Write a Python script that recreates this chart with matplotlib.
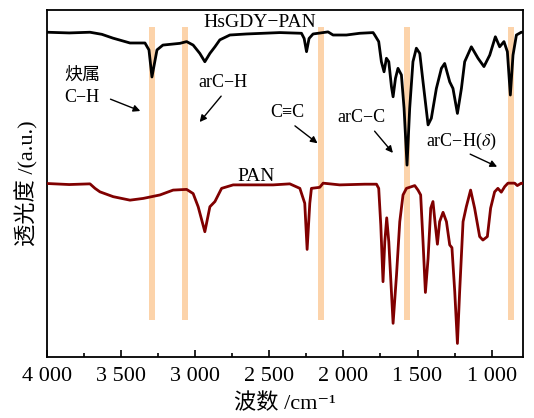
import numpy as np
import matplotlib
matplotlib.use('Agg')
import matplotlib.pyplot as plt
from matplotlib.ticker import MultipleLocator, FuncFormatter

plt.rcParams['font.family'] = ['Liberation Serif', 'Noto Sans CJK SC', 'DejaVu Sans']
plt.rcParams['mathtext.fontset'] = 'stix'

# HsGDY-PAN 曲线 (波数, 透光度 a.u.)
wn_hsgdy = [4000, 3850, 3710, 3630, 3555, 3440, 3339, 3312, 3292, 3258, 3218, 3103,
            3058, 3014, 2969, 2935, 2901, 2867, 2834, 2766, 2654, 2429, 2283, 2265,
            2249, 2232, 2205, 2137, 2104, 2070, 1980, 1890, 1800, 1789, 1762, 1744,
            1726, 1710, 1694, 1676, 1665, 1649, 1632, 1609, 1591, 1571, 1553, 1531,
            1508, 1485, 1463, 1429, 1407, 1373, 1339, 1317, 1283, 1261, 1231, 1204,
            1182, 1137, 1092, 1052, 1013, 975, 946, 917, 894, 874, 856, 833,
            800, 791]
t_hsgdy = [93.6, 93.4, 93.6, 93.0, 91.9, 90.5, 90.5, 88.5, 80.7, 88.5, 89.9, 90.4,
           90.9, 89.9, 87.5, 85.1, 87.5, 89.4, 91.4, 92.8, 93.1, 93.5, 93.3, 91.8,
           88.0, 91.8, 93.1, 93.5, 93.7, 92.8, 92.8, 93.3, 93.5, 92.8, 90.9, 85.1,
           82.2, 86.1, 85.1, 77.9, 75.0, 80.3, 83.2, 81.3, 71.7, 55.3, 71.7, 85.1,
           89.0, 87.5, 79.3, 66.9, 68.8, 77.4, 83.2, 84.6, 79.3, 77.4, 70.2, 77.4,
           85.1, 89.4, 86.1, 83.7, 87.0, 92.3, 89.4, 90.9, 88.0, 75.5, 87.0, 92.8,
           93.6, 93.6]

# PAN 曲线
wn_pan = [4000, 3850, 3710, 3676, 3643, 3553, 3440, 3351, 3238, 3149, 3058, 3014,
          2980, 2935, 2901, 2867, 2822, 2744, 2474, 2362, 2294, 2261, 2245, 2227,
          2216, 2160, 2137, 2025, 1856, 1777, 1762, 1748, 1733, 1721, 1708, 1694,
          1665, 1642, 1620, 1598, 1575, 1519, 1497, 1479, 1463, 1447, 1429, 1411,
          1396, 1380, 1366, 1351, 1328, 1305, 1283, 1268, 1249, 1231, 1216, 1193,
          1171, 1142, 1115, 1081, 1059, 1029, 1007, 980, 958, 935, 912, 890,
          845, 827, 800, 791]
t_pan = [50.0, 49.7, 49.9, 48.6, 47.6, 46.2, 45.2, 45.7, 46.7, 48.1, 48.3, 47.1,
         43.3, 36.1, 43.3, 44.8, 48.6, 49.6, 49.6, 49.9, 48.6, 44.3, 31.0, 44.3,
         48.6, 48.9, 50.1, 49.6, 49.8, 49.8, 48.6, 38.0, 21.7, 33.2, 40.1, 33.2,
         9.7, 23.6, 39.0, 46.7, 48.6, 49.4, 48.1, 46.7, 33.2, 18.6, 28.4, 42.9,
         44.8, 38.0, 32.5, 39.0, 41.7, 39.0, 32.3, 31.5, 18.8, 3.9, 18.8, 39.0,
         43.3, 48.1, 42.9, 34.7, 33.7, 34.7, 42.9, 47.6, 48.6, 47.5, 49.1, 50.1,
         50.1, 49.4, 50.1, 50.0]

# 特征峰位置
bands = [3290, 3070, 2150, 1572, 870]

fig = plt.figure(figsize=(5.34, 4.18), dpi=100)
ax = fig.add_axes([0.088, 0.146, 0.891, 0.830])

for b in bands:
    ax.fill_between([b - 20, b + 20], 10.7, 95.1, color='#FCD3AA', lw=0, zorder=1)

ax.plot(wn_hsgdy, t_hsgdy, color='black', lw=2.0, solid_joinstyle='round', zorder=3)
ax.plot(wn_pan, t_pan, color='#800000', lw=2.0, solid_joinstyle='round', zorder=3)

ax.set_xlim(4000, 790)
ax.set_ylim(0, 100)
ax.set_yticks([])
ax.xaxis.set_major_locator(MultipleLocator(500))
ax.xaxis.set_minor_locator(MultipleLocator(250))
ax.xaxis.set_major_formatter(FuncFormatter(lambda v, p: f'{int(v):,}'.replace(',', ' ')))
ax.tick_params(axis='x', which='major', direction='in', length=5, width=1.2,
               labelsize=16, pad=7)
ax.tick_params(axis='x', which='minor', direction='in', length=3, width=1.2)
for s in ax.spines.values():
    s.set_linewidth(1.3)

ax.set_xlabel('波数 /cm⁻¹', fontsize=16, labelpad=6)
ax.set_ylabel('透光度 /(a.u.)', fontsize=16, labelpad=6)

ax.text(2564, 96.3, 'HsGDY−PAN', fontsize=14, ha='center', va='center')
ax.text(2591, 51.9, 'PAN', fontsize=14, ha='center', va='center')

arrow = dict(arrowstyle='-|>', color='black', lw=1.0, mutation_scale=10)

ax.text(3885, 81.0, '炔属', fontsize=13, ha='left', va='center')
ax.text(3885, 74.9, 'C−H', fontsize=13, ha='left', va='center')
ax.annotate('', xy=(3353, 70.6), xytext=(3589, 74.6), arrowprops=arrow)

ax.text(2810, 79.0, 'arC−H', fontsize=13, ha='center', va='center')
ax.annotate('', xy=(2982, 67.1), xytext=(2813, 75.8), arrowprops=arrow)

ax.text(2382, 70.6, 'C≡C', fontsize=13, ha='center', va='center')
ax.annotate('', xy=(2160, 61.1), xytext=(2342, 67.1), arrowprops=arrow)

ax.text(1876, 68.9, 'arC−C', fontsize=13, ha='center', va='center')
ax.annotate('', xy=(1654, 58.2), xytext=(1802, 65.7), arrowprops=arrow)

ax.text(1206, 62.0, 'arC−H($\\delta$)', fontsize=13, ha='center', va='center')
ax.annotate('', xy=(946, 54.5), xytext=(1162, 58.8), arrowprops=arrow)

fig.savefig('out.png', dpi=100)
